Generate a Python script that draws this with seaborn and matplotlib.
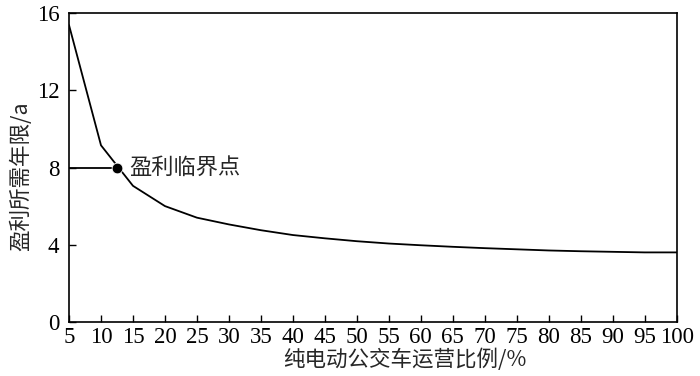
import pandas as pd
import matplotlib
matplotlib.use("Agg")
import matplotlib.pyplot as plt
import seaborn as sns

# operating ratio of pure electric buses (%) and years needed to profit
ratio = [5, 10, 15, 20, 25, 30, 35, 40, 45, 50, 55, 60, 65, 70, 75, 80, 85, 90, 95, 100]
years = [15.38, 9.15, 7.05, 6.0, 5.4, 5.05, 4.75, 4.5, 4.33, 4.18, 4.06, 3.97, 3.89, 3.82,
         3.76, 3.70, 3.66, 3.63, 3.60, 3.60]
critical_x = [5, 12.45]
critical_y = [8, 8]
critical_label = "盈利临界点"
x_ticks = list(range(5, 101, 5))
y_ticks = [0, 4, 8, 12, 16]

df = pd.DataFrame({"ratio": ratio, "years": years})
crit = pd.DataFrame({"x": critical_x, "y": critical_y})

sns.set_theme(style="ticks")
plt.rcParams['font.family'] = ['Liberation Serif', 'Noto Sans CJK SC']
cjk = ['Noto Sans CJK SC', 'DejaVu Sans']

fig = plt.figure(figsize=(7, 3.76), dpi=100)
ax = fig.add_axes([0.0986, 0.144, 0.868, 0.821])

sns.lineplot(data=df, x="ratio", y="years", color="black", linewidth=1.3, ax=ax)
sns.lineplot(data=crit, x="x", y="y", color="black", linewidth=1.3, ax=ax)
sns.scatterplot(x=critical_x[-1:], y=critical_y[-1:], color="black", s=60, zorder=5, ax=ax)
ax.text(critical_x[-1] + 2.0, critical_y[-1], critical_label, fontsize=16,
        family=cjk, va="center", ha="left")

ax.set_xlim(5, 100)
ax.set_ylim(0, 16)
ax.set_xticks(x_ticks)
ax.set_yticks(y_ticks)
ax.tick_params(direction="in", length=5, width=1, labelsize=16.5, colors="black")
ax.tick_params(axis="y", pad=7)
ax.tick_params(axis="x", pad=4)
for s in ax.spines.values():
    s.set_visible(True)
    s.set_color("black")
    s.set_linewidth(1.2)

ax.set_xlabel("纯电动公交车运营比例/%", fontsize=15.5, family=cjk)
ax.set_ylabel("盈利所需年限/a", fontsize=15.5, family=cjk)
ax.xaxis.set_label_coords(0.552, -0.085)
ax.yaxis.set_label_coords(-0.061, 0.472)

fig.savefig("out.png", dpi=100)
